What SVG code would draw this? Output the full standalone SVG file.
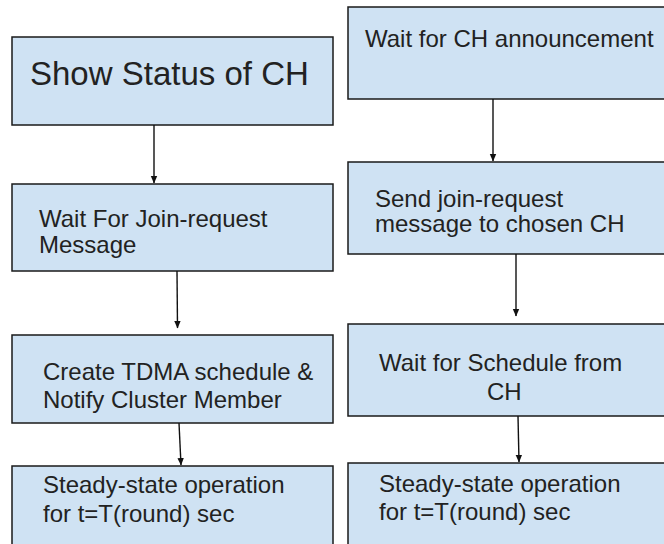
<svg xmlns="http://www.w3.org/2000/svg" width="664" height="544" viewBox="0 0 664 544">
  <style>
    .box { fill: #cfe2f3; stroke: #1a1a1a; stroke-width: 1.5; }
    .lbl { font-family: "Liberation Sans", Arial, sans-serif; font-size: 24px; fill: #222222; }
    .big { font-size: 33px; }
    .edge { stroke: #111111; stroke-width: 1.4; fill: none; marker-end: url(#arrow); }
  </style>
  <defs>
    <marker id="arrow" markerWidth="8" markerHeight="8" refX="7" refY="4" orient="auto" markerUnits="userSpaceOnUse">
      <path d="M0,0.8 L7.5,4 L0,7.2 Z" fill="#111111"/>
    </marker>
  </defs>
  <rect width="664" height="544" fill="#ffffff"/>

  <!-- cluster head column -->
  <g id="ch-status">
    <rect class="box" x="12" y="37" width="321" height="88"/>
    <text class="lbl big" x="30" y="85">Show Status of CH</text>
  </g>
  <g id="ch-wait-join">
    <rect class="box" x="12" y="184" width="321" height="87"/>
    <text class="lbl" x="39" y="227">Wait For Join-request</text>
    <text class="lbl" x="39" y="253">Message</text>
  </g>
  <g id="ch-tdma">
    <rect class="box" x="12" y="335" width="321" height="88"/>
    <text class="lbl" x="43" y="380">Create TDMA schedule &amp;</text>
    <text class="lbl" x="43" y="408">Notify Cluster Member</text>
  </g>
  <g id="ch-steady">
    <rect class="box" x="12" y="466" width="321" height="90"/>
    <text class="lbl" x="43" y="493">Steady-state operation</text>
    <text class="lbl" x="43" y="522">for t=T(round) sec</text>
  </g>

  <!-- member node column -->
  <g id="nd-wait-announce">
    <rect class="box" x="348" y="7" width="330" height="92"/>
    <text class="lbl" x="365" y="47">Wait for CH announcement</text>
  </g>
  <g id="nd-send-join">
    <rect class="box" x="348" y="162" width="330" height="92"/>
    <text class="lbl" x="375" y="207">Send join-request</text>
    <text class="lbl" x="375" y="232">message to chosen CH</text>
  </g>
  <g id="nd-wait-schedule">
    <rect class="box" x="348" y="324" width="330" height="92"/>
    <text class="lbl" x="379" y="371">Wait for Schedule from</text>
    <text class="lbl" x="487" y="400">CH</text>
  </g>
  <g id="nd-steady">
    <rect class="box" x="348" y="463" width="330" height="90"/>
    <text class="lbl" x="379" y="492">Steady-state operation</text>
    <text class="lbl" x="379" y="520">for t=T(round) sec</text>
  </g>

  <g id="connectors">
    <line class="edge" x1="154" y1="125" x2="154" y2="183"/>
    <line class="edge" x1="177" y1="271" x2="177.5" y2="328"/>
    <line class="edge" x1="179" y1="423" x2="181" y2="465"/>
    <line class="edge" x1="493" y1="99" x2="493" y2="161"/>
    <line class="edge" x1="516" y1="254" x2="516" y2="316"/>
    <line class="edge" x1="518" y1="416" x2="519" y2="462"/>
  </g>
</svg>
